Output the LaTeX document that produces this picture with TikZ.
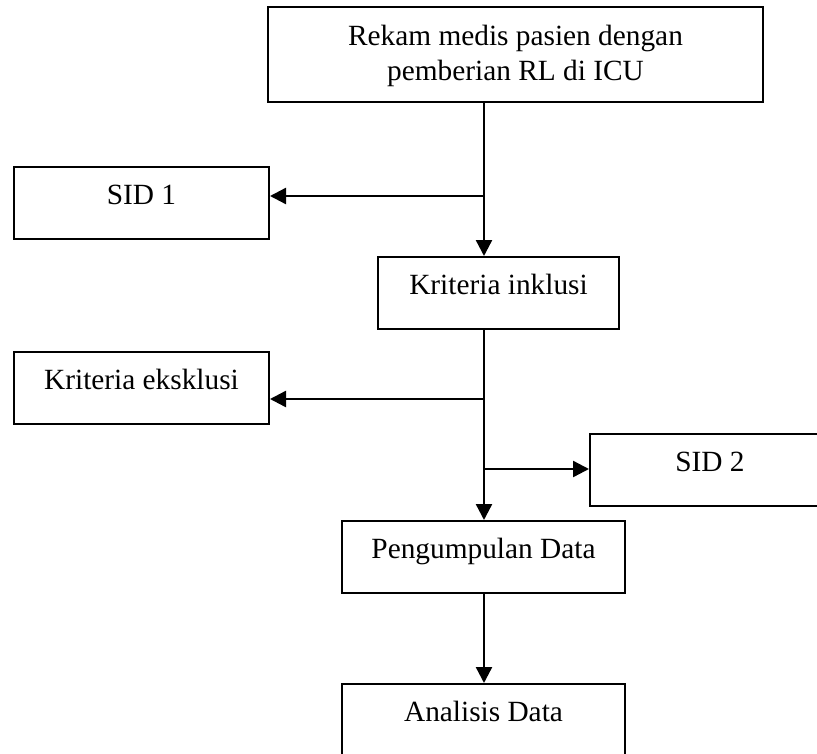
\documentclass[tikz,border=0pt]{standalone}
\usepackage{fontspec}
\setmainfont{Liberation Serif}
\usetikzlibrary{arrows.meta}
\begin{document}
\begin{tikzpicture}[x=0.75pt,y=-0.75pt,
  box/.style={draw, line width=1.5pt, inner sep=0pt, anchor=north west,
    minimum height=54pt, text height=28.1pt, text depth=25.9pt,
    font=\fontsize{22}{26.25}\selectfont},
  arr/.style={line width=1.8pt, -{Triangle[length=12pt,width=12pt]}}]
\clip (0,0) rectangle (817,753);
\node[box, minimum width=371.25pt, text height=28.5pt, text depth=42.75pt] (top) at (267,6)
  {\begin{tabular}[t]{c}Rekam medis pasien dengan\\ pemberian RL di ICU\end{tabular}};
\node[box, minimum width=191.25pt] (sid1) at (13,166) {SID 1};
\node[box, minimum width=180.75pt] (inkl) at (377,256) {Kriteria inklusi};
\node[box, minimum width=191.25pt] (eksk) at (13,351) {Kriteria eksklusi};
\node[box, minimum width=180pt] (sid2) at (589,433) {SID 2};
\node[box, minimum width=212.25pt] (peng) at (341,520) {Pengumpulan Data};
\node[box, minimum width=212.25pt] (anal) at (341,683) {Analisis Data};
\coordinate (j1) at (484,196);
\coordinate (j2) at (484,399);
\coordinate (j3) at (484,469);
\draw[arr] (top.south -| j1) -- (inkl.north -| j1);
\draw[arr] (j1) -- (sid1.east |- j1);
\draw[arr] (inkl.south -| j2) -- (peng.north -| j2);
\draw[arr] (j2) -- (eksk.east |- j2);
\draw[arr] (j3) -- (sid2.west |- j3);
\draw[arr] (peng.south -| j2) -- (anal.north -| j2);
\end{tikzpicture}
\end{document}
